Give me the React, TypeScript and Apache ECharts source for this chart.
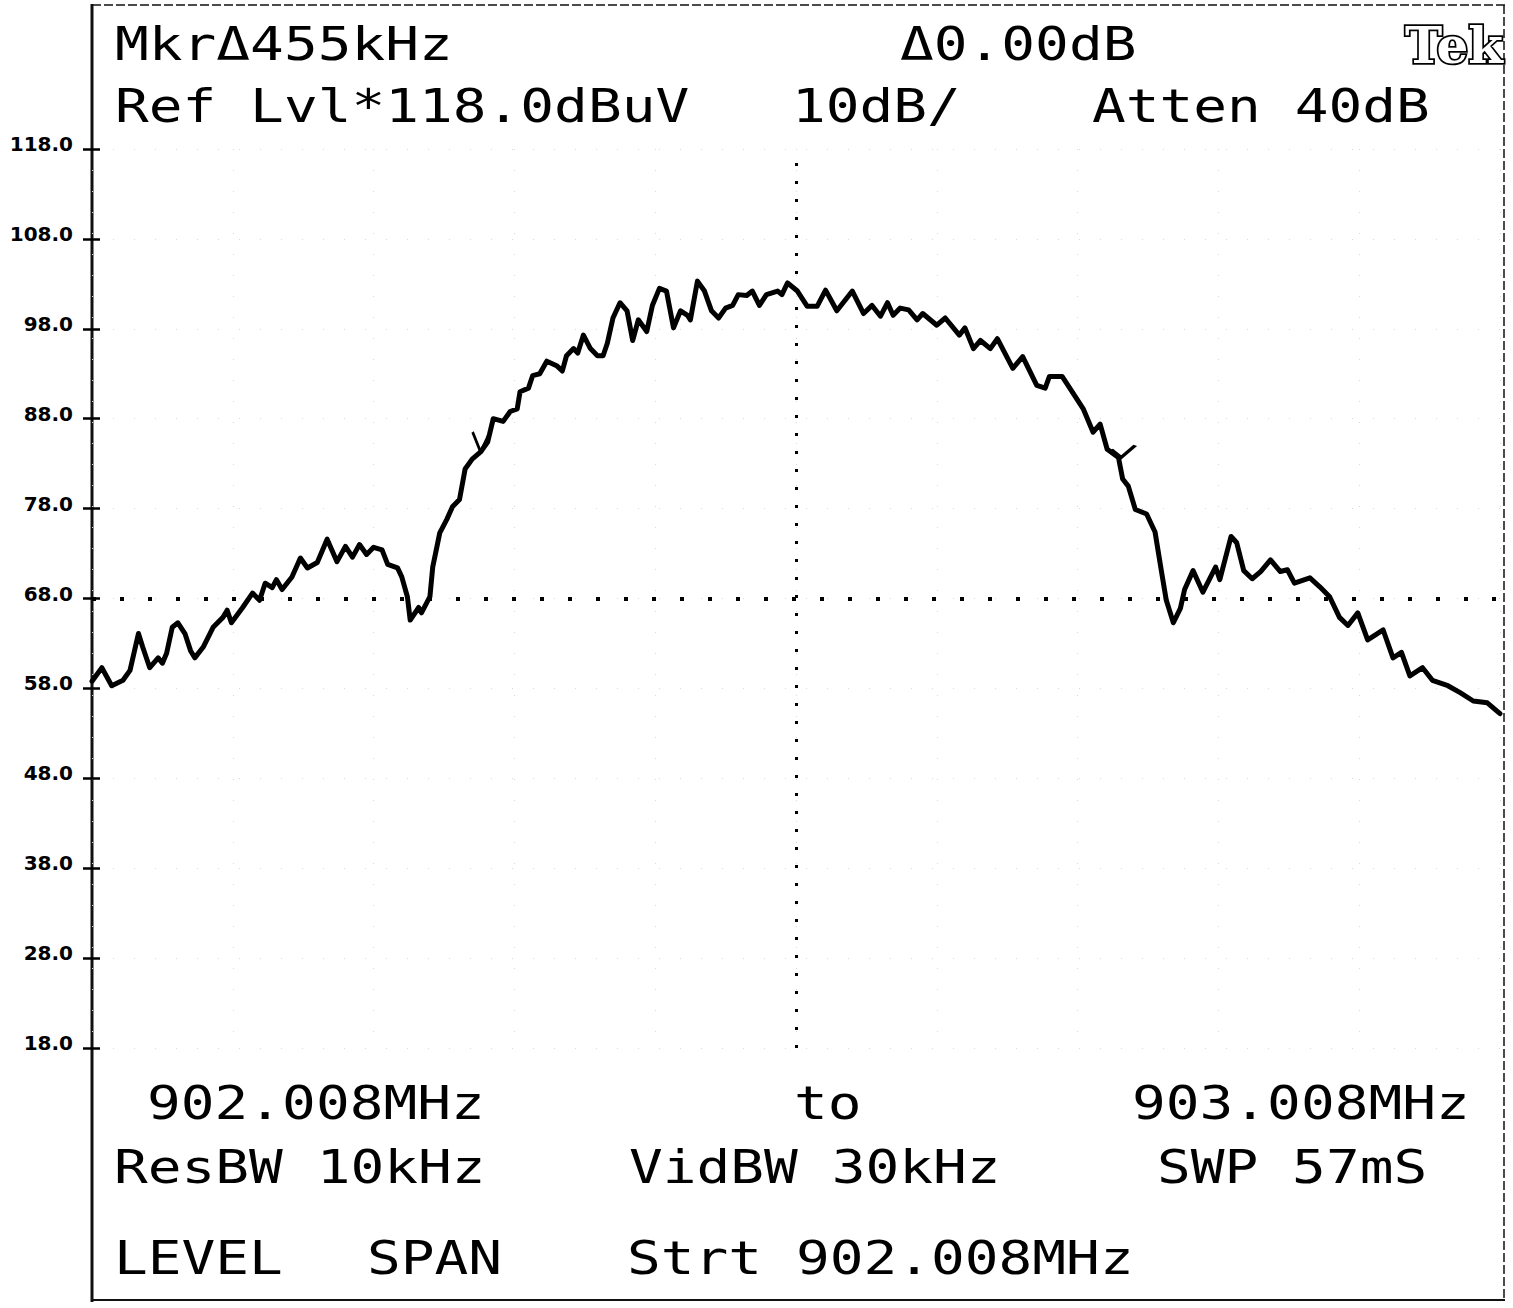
import React, { useEffect, useRef } from "react";
import * as echarts from "echarts";

// ---- instrument settings ----
const REF_LEVEL_DBUV = 118;
const DB_PER_DIV = 10;
const DIVISIONS = 10;
const SPAN_KHZ = 1000;
const CENTER_KHZ = 500;
const CENTER_LEVEL_DBUV = 68;

// ---- trace: frequency offset from 902.008 MHz (kHz) and level (dBuV) ----
const offsetKHz = [
  0, 7, 14, 22, 27, 33, 36, 41, 47, 50, 53, 57, 61, 66, 70, 73, 79, 86, 93, 96,
  99, 107, 114, 119, 123, 128, 131, 135, 142, 148, 153, 160, 167, 174, 180, 185, 190, 195, 200, 206,
  210, 217, 220, 224, 226, 232, 234, 240, 242, 247, 252, 256, 261, 265, 270, 276, 281, 285, 292, 297,
  302, 304, 310, 313, 318, 323, 330, 334, 337, 342, 345, 349, 354, 359, 363, 366, 370, 375, 380, 384,
  388, 394, 398, 403, 408, 413, 418, 423, 425, 430, 435, 440, 445, 450, 455, 459, 465, 469, 474, 479,
  487, 490, 494, 501, 508, 515, 521, 529, 540, 548, 554, 560, 565, 569, 574, 580, 586, 590, 600, 606,
  616, 620, 626, 631, 638, 643, 654, 661, 671, 677, 680, 689, 697, 704, 711, 716, 721, 729, 732, 736,
  741, 749, 755, 760, 763, 768, 773, 776, 782, 789, 798, 801, 809, 813, 818, 824, 830, 837, 844, 849,
  854, 865, 872, 879, 886, 892, 899, 906, 911, 917, 924, 930, 936, 945, 952, 963, 972, 981, 991, 1000,
];
const levelDbuV = [
  58.8, 60.3, 58.3, 58.9, 60.0, 64.1, 62.6, 60.3, 61.4, 60.8, 61.9, 64.8, 65.3, 64.1, 62.2, 61.4, 62.6, 64.8, 65.9, 66.7,
  65.3, 67.0, 68.6, 67.8, 69.7, 69.2, 70.1, 69.0, 70.4, 72.5, 71.4, 72.0, 74.6, 72.1, 73.8, 72.6, 74.0, 72.9, 73.7, 73.4,
  71.8, 71.4, 70.4, 68.2, 65.6, 67.0, 66.4, 68.2, 71.5, 75.3, 76.8, 78.2, 79.0, 82.4, 83.5, 84.3, 85.4, 88.0, 87.7, 88.8,
  89.1, 91.0, 91.4, 92.8, 93.0, 94.4, 93.9, 93.3, 95.0, 95.8, 95.3, 97.3, 95.8, 95.0, 95.0, 96.4, 99.2, 100.9, 100.0, 96.7,
  99.0, 97.7, 100.6, 102.5, 102.2, 98.1, 100.0, 99.5, 99.0, 103.3, 102.2, 100.0, 99.2, 100.3, 100.6, 101.8, 101.7, 102.2, 100.6, 101.8,
  102.2, 101.8, 103.1, 102.2, 100.5, 100.5, 102.3, 100.0, 102.2, 99.7, 100.6, 99.4, 100.9, 99.5, 100.3, 100.1, 99.0, 99.7, 98.4, 99.2,
  97.3, 98.1, 95.8, 96.7, 95.8, 96.9, 93.6, 94.9, 91.7, 91.4, 92.7, 92.7, 90.8, 89.1, 86.5, 87.4, 84.6, 83.7, 81.3, 80.5,
  77.9, 77.4, 75.4, 70.6, 67.8, 65.3, 66.9, 69.0, 71.1, 68.7, 71.5, 70.1, 74.9, 74.2, 71.1, 70.2, 71.0, 72.3, 71.0, 71.2,
  69.7, 70.3, 69.3, 68.2, 65.9, 65.0, 66.4, 63.4, 63.9, 64.5, 61.4, 62.0, 59.4, 60.3, 58.9, 58.3, 57.5, 56.6, 56.4, 55.2,
];

// ---- delta markers (455 kHz apart) ----
const markerKHz = [276, 731];
const markerLevelDbuV = [84.3, 83.7];

// ---- screen annotations ----
const headerLeft = ["Mkr\u0394455kHz", "Ref Lvl*118.0dBuV"];
const headerMid = ["\u03940.00dB", "10dB/"];
const headerRight = ["Atten 40dB"];
const footerRow1 = ["902.008MHz", "to", "903.008MHz"];
const footerRow2 = ["ResBW 10kHz", "VidBW 30kHz", "SWP 57mS"];
const footerRow3 = ["LEVEL", "SPAN", "Strt 902.008MHz"];

const MONO = '46px "DejaVu Sans Mono"';
const SX = 1.22;

function monoText(text: string, x: number, y: number) {
  return {
    type: "text",
    x,
    y,
    scaleX: SX,
    silent: true,
    style: { text, fill: "#000", font: MONO, align: "left", verticalAlign: "middle" },
  };
}

function frameLine(x1: number, y1: number, x2: number, y2: number, w: number, dash?: number[]) {
  return {
    type: "line",
    silent: true,
    shape: { x1, y1, x2, y2 },
    style: { stroke: "#111", lineWidth: w, lineDash: dash },
  };
}

export default function App() {
  const ref = useRef<HTMLDivElement>(null);

  useEffect(() => {
    if (!ref.current) return;
    const chart = echarts.init(ref.current, null, { renderer: "svg" });

    const data = offsetKHz.map((k, i) => [k, levelDbuV[i] - REF_LEVEL_DBUV]);
    const faint = { color: "#d8d8d8", width: 1, type: [1, 20] };

    const option = {
      animation: false,
      backgroundColor: "#ffffff",
      grid: { left: 92, right: 13, top: 149, bottom: 260, containLabel: false },
      xAxis: {
        type: "value",
        min: 0,
        max: SPAN_KHZ,
        interval: SPAN_KHZ / DIVISIONS,
        axisLine: { show: false },
        axisTick: { show: false },
        axisLabel: { show: false },
        splitLine: { show: true, lineStyle: faint },
      },
      yAxis: [
        {
          type: "value",
          min: -DB_PER_DIV * DIVISIONS,
          max: 0,
          interval: DB_PER_DIV,
          position: "left",
          axisLine: { show: false },
          axisTick: { show: true, length: 9, lineStyle: { color: "#000", width: 2.5 } },
          axisLabel: {
            show: true,
            margin: 19,
            color: "#000",
            fontFamily: "DejaVu Sans",
            fontWeight: "bold",
            fontSize: 20,
            verticalAlign: "bottom",
            lineHeight: 10,
            formatter: (v: number) => (v + REF_LEVEL_DBUV).toFixed(1),
          },
          splitLine: { show: true, lineStyle: faint },
        },
        {
          type: "value",
          min: -DB_PER_DIV * DIVISIONS,
          max: 0,
          interval: DB_PER_DIV,
          position: "left",
          axisLine: { show: false },
          axisTick: { show: true, inside: true, length: 8, lineStyle: { color: "#000", width: 2.5 } },
          axisLabel: { show: false },
          splitLine: { show: false },
        },
      ],
      series: [
        {
          type: "line",
          data,
          symbol: "none",
          lineStyle: { color: "#000", width: 5, join: "round", cap: "round" },
          markLine: {
            silent: true,
            symbol: "none",
            label: { show: false },
            data: [
              { xAxis: CENTER_KHZ, lineStyle: { type: [3, 15], width: 3, color: "#000" } },
              { yAxis: CENTER_LEVEL_DBUV - REF_LEVEL_DBUV, lineStyle: { type: [4, 24], width: 4, color: "#000" } },
            ],
          },
          markPoint: {
            silent: true,
            label: { show: false },
            itemStyle: { color: "rgba(0,0,0,0)", borderColor: "#000", borderWidth: 3 },
            data: [
              {
                coord: [markerKHz[0], markerLevelDbuV[0] - REF_LEVEL_DBUV],
                symbol: "path://M0,0L8,20L16,3",
                symbolSize: [16, 20],
                symbolOffset: [0, -10],
              },
              {
                coord: [markerKHz[1], markerLevelDbuV[1] - REF_LEVEL_DBUV],
                symbol: "path://M0,4L10,12L24,0",
                symbolSize: [24, 12],
                symbolOffset: [2, -6],
              },
            ],
          },
        },
      ],
      graphic: [
        frameLine(92, 4, 92, 1302, 3),
        frameLine(92, 5, 1505, 5, 1.5, [9, 3]),
        frameLine(1504, 5, 1504, 1300, 1.5, [9, 3]),
        frameLine(92, 1300, 1505, 1300, 2),
        monoText(headerLeft[0], 115, 44),
        monoText(headerMid[0], 900, 44),
        {
          type: "text",
          x: 1503,
          y: 45,
          silent: true,
          style: {
            text: "Tek",
            font: 'bold 50px "DejaVu Serif"',
            fill: "#fff",
            stroke: "#000",
            lineWidth: 3.5,
            align: "right",
            verticalAlign: "middle",
          },
        },
        monoText(headerLeft[1], 115, 106),
        monoText(headerMid[1], 792, 106),
        monoText(headerRight[0], 1092, 106),
        monoText(footerRow1[0], 147, 1103),
        monoText(footerRow1[1], 794, 1103),
        monoText(footerRow1[2], 1132, 1103),
        monoText(footerRow2[0], 114, 1167),
        monoText(footerRow2[1], 629, 1167),
        monoText(footerRow2[2], 1157, 1167),
        monoText(footerRow3[0], 114, 1258),
        monoText(footerRow3[1], 367, 1258),
        monoText(footerRow3[2], 627, 1258),
      ],
    };

    chart.setOption(option as any);
    return () => chart.dispose();
  }, []);

  return (
    <div
      ref={ref}
      style={{ position: "fixed", left: 0, top: 0, width: 1513, height: 1308, background: "#fff" }}
    />
  );
}
